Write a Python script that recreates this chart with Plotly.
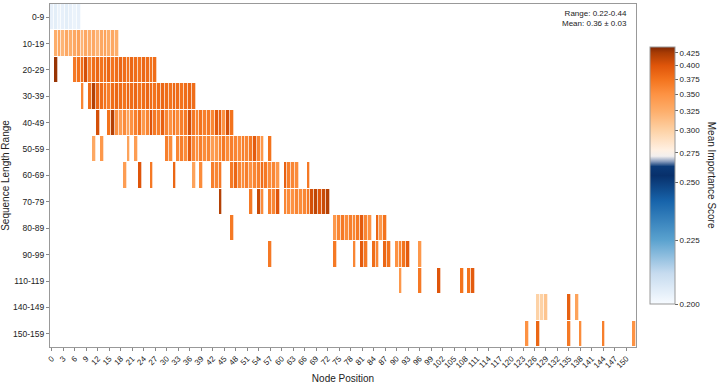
import numpy as np
import plotly.graph_objects as go

# Row labels (top to bottom)
ROWS = ["0-9", "10-19", "20-29", "30-39", "40-49", "50-59", "60-69",
        "70-79", "80-89", "90-99", "110-119", "140-149", "150-159"]
N_NODES = 153

# node positions / mean importance per row
nodes_0_9 = [0, 1, 2, 3, 4, 5, 6, 7]
vals_0_9 = [0.204, 0.205, 0.203, 0.204, 0.205, 0.204, 0.203, 0.204]

nodes_10_19 = list(range(1, 18))
vals_10_19 = [0.325, 0.33, 0.32, 0.33, 0.325, 0.33, 0.335, 0.32, 0.33,
              0.325, 0.33, 0.32, 0.33, 0.335, 0.325, 0.33, 0.325]

nodes_20_29 = [1] + list(range(6, 28))
vals_20_29 = [0.43, 0.37, 0.375, 0.38, 0.405, 0.365, 0.38, 0.385, 0.375,
              0.38, 0.385, 0.375, 0.38, 0.385, 0.38, 0.375, 0.385, 0.38,
              0.375, 0.385, 0.38, 0.375, 0.38]

nodes_30_39 = [8, 10, 11] + list(range(12, 38))
vals_30_39 = [0.36, 0.38, 0.42, 0.385, 0.38, 0.375, 0.365, 0.38, 0.385,
              0.38, 0.375, 0.385, 0.38, 0.385, 0.375, 0.38, 0.385, 0.38,
              0.375, 0.38, 0.385, 0.38, 0.375, 0.385, 0.38, 0.375, 0.38,
              0.385, 0.38]

nodes_40_49 = [12, 15, 16] + list(range(17, 48))
vals_40_49 = [0.405, 0.375, 0.42, 0.35, 0.34, 0.355, 0.335, 0.35, 0.365,
              0.375, 0.345, 0.36, 0.40, 0.37, 0.365, 0.39, 0.36, 0.35,
              0.37, 0.355, 0.365, 0.37, 0.405, 0.37, 0.36, 0.375, 0.365,
              0.37, 0.36, 0.395, 0.39, 0.35, 0.405, 0.375]

nodes_50_59 = [11, 13, 20, 22, 30, 31] + list(range(33, 56)) + [57]
vals_50_59 = [0.33, 0.345, 0.335, 0.34, 0.365, 0.355,
              0.36, 0.365, 0.355, 0.395, 0.36, 0.35, 0.365, 0.355, 0.36,
              0.34, 0.345, 0.36, 0.37, 0.355, 0.365, 0.36, 0.355, 0.365,
              0.36, 0.37, 0.395, 0.36, 0.345, 0.375]

nodes_60_69 = [19, 23, 26, 32, 37, 39, 42, 43, 44] + list(range(47, 60)) + [61, 62, 63, 64, 67]
vals_60_69 = [0.34, 0.40, 0.37, 0.385, 0.335, 0.355, 0.365, 0.36, 0.37,
              0.37, 0.385, 0.36, 0.355, 0.365, 0.35, 0.36, 0.365, 0.38,
              0.37, 0.355, 0.36, 0.345, 0.39, 0.365, 0.36, 0.355, 0.37]

nodes_70_79 = [44, 52, 54, 55, 57, 58, 59] + list(range(61, 73))
vals_70_79 = [0.42, 0.37, 0.41, 0.355, 0.365, 0.36, 0.40,
              0.36, 0.355, 0.35, 0.36, 0.355, 0.36, 0.37, 0.405, 0.415,
              0.40, 0.41, 0.42]

nodes_80_89 = [47] + list(range(74, 84)) + [85, 86, 87]
vals_80_89 = [0.37, 0.345, 0.36, 0.37, 0.355, 0.365, 0.36, 0.37, 0.395,
              0.36, 0.35, 0.385, 0.345, 0.375]

nodes_90_99 = [57, 74, 79, 81, 82, 84, 85, 87, 88, 90, 91, 92, 93, 96]
vals_90_99 = [0.37, 0.37, 0.36, 0.395, 0.37, 0.38, 0.36, 0.385, 0.375,
              0.35, 0.36, 0.375, 0.395, 0.345]

nodes_110_119 = [91, 96, 101, 107, 109, 110]
vals_110_119 = [0.345, 0.37, 0.40, 0.375, 0.375, 0.395]

nodes_140_149 = [127, 128, 129, 135, 137]
vals_140_149 = [0.30, 0.30, 0.31, 0.39, 0.335]

nodes_150_159 = [124, 127, 135, 138, 144, 152]
vals_150_159 = [0.35, 0.385, 0.37, 0.355, 0.365, 0.35]

ROW_DATA = [
    (nodes_0_9, vals_0_9), (nodes_10_19, vals_10_19), (nodes_20_29, vals_20_29),
    (nodes_30_39, vals_30_39), (nodes_40_49, vals_40_49), (nodes_50_59, vals_50_59),
    (nodes_60_69, vals_60_69), (nodes_70_79, vals_70_79), (nodes_80_89, vals_80_89),
    (nodes_90_99, vals_90_99), (nodes_110_119, vals_110_119),
    (nodes_140_149, vals_140_149), (nodes_150_159, vals_150_159),
]

# colorbar ticks and their (non-linear) position along the bar
CB_TICKS = [0.200, 0.225, 0.250, 0.275, 0.300, 0.325, 0.350, 0.375, 0.400, 0.425, 0.4375]
CB_FRAC = [0.0, 0.249, 0.474, 0.588, 0.675, 0.751, 0.817, 0.875, 0.928, 0.977, 1.0]

z = np.full((len(ROWS), N_NODES), np.nan)
for i, (nodes, vals) in enumerate(ROW_DATA):
    z[i, nodes] = np.interp(vals, CB_TICKS, CB_FRAC)

colorscale = [
    [0.0, "#f7fbff"], [0.12, "#c6dbef"], [0.249, "#5aa2cf"], [0.40, "#1764ab"],
    [0.50, "#08306b"], [0.535, "#0b3a78"], [0.555, "#8c9fbf"], [0.575, "#f2efee"],
    [0.60, "#fff0e2"], [0.675, "#fdd2a6"], [0.751, "#fdae6b"], [0.817, "#fd9243"],
    [0.875, "#f3731d"], [0.928, "#df550a"], [0.977, "#a93c04"], [1.0, "#7f2704"],
]

fig = go.Figure(go.Heatmap(
    z=z,
    x=list(range(N_NODES)),
    y=ROWS,
    zmin=0, zmax=1,
    colorscale=colorscale,
    xgap=0.7, ygap=1,
    hoverongaps=False,
    colorbar=dict(
        tickvals=CB_FRAC[:-1],
        ticktext=[f"{t:.3f}" for t in CB_TICKS[:-1]],
        ticks="outside", ticklen=3, tickcolor="#666",
        tickfont=dict(size=8, color="#222"),
        thickness=25, len=0.748, lenmode="fraction", y=0.5, yanchor="middle",
        x=1.007, xanchor="left", xpad=10, ypad=0,
        outlinecolor="#999", outlinewidth=1,
    ),
))

# colorbar title, reading top to bottom
fig.add_annotation(
    x=1.142, y=0.5, xref="paper", yref="paper", showarrow=False,
    text="Mean Importance Score", textangle=90,
    font=dict(size=10, color="#222"),
)

fig.add_annotation(
    x=0.988, y=0.99, xref="paper", yref="paper",
    xanchor="right", yanchor="top", align="right", showarrow=False,
    text="Range: 0.22-0.44<br>Mean: 0.36 ± 0.03",
    font=dict(size=8, color="#222"),
)

fig.update_layout(
    width=718, height=384,
    plot_bgcolor="white", paper_bgcolor="white",
    font=dict(family="Liberation Sans, Arial, sans-serif", size=9, color="#222"),
    margin=dict(l=50, r=82, t=4, b=37, autoexpand=False),
)
fig.update_xaxes(
    range=[-0.5, N_NODES - 0.5],
    tickmode="array", tickvals=list(range(0, 151, 3)),
    tickangle=-45, tickfont=dict(size=8),
    ticks="outside", ticklen=3, tickcolor="#888",
    showline=True, linecolor="#999", linewidth=1, mirror=True,
    showgrid=False, zeroline=False, automargin=False,
    title=dict(text="Node Position", font=dict(size=10)),
)
fig.update_yaxes(
    autorange="reversed", type="category",
    tickfont=dict(size=8.5),
    ticks="outside", ticklen=3, tickcolor="#888",
    showline=True, linecolor="#999", linewidth=1, mirror=True,
    showgrid=False, zeroline=False, automargin=False,
    title=dict(text="Sequence Length Range", font=dict(size=10)),
)

# drop the page's default 8px body margin so the figure fills the window
fig.write_html("out.html", config={"displayModeBar": False},
               post_script="document.body.style.margin='0';")
